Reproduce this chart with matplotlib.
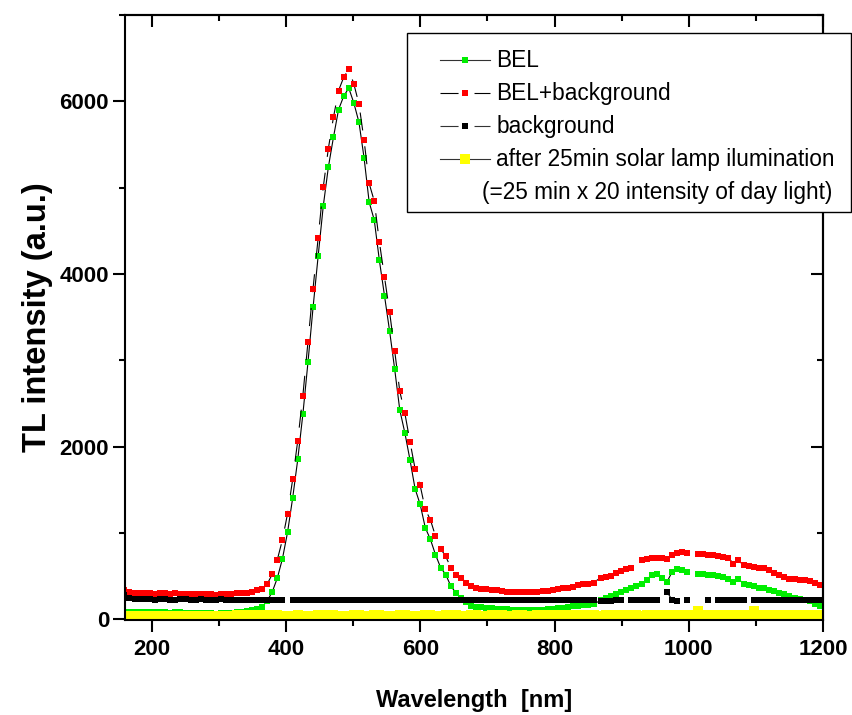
import numpy as np
import matplotlib
matplotlib.use('Agg')
import matplotlib.pyplot as plt
from matplotlib.lines import Line2D
from matplotlib.legend_handler import HandlerLine2D
from matplotlib.ticker import MultipleLocator
import matplotlib.transforms as mtransforms

plt.rcParams['font.family'] = ['Liberation Sans', 'DejaVu Sans']
plt.rcParams['lines.scale_dashes'] = False

nan = np.nan

# wavelength grid (nm)
wavelength = [159.0, 166.6, 174.2, 181.8, 189.4, 197.0, 204.6, 212.2, 219.8, 227.4,
              235.0, 242.6, 250.2, 257.8, 265.4, 273.0, 280.6, 288.2, 295.8, 303.4,
              311.0, 318.6, 326.2, 333.8, 341.4, 349.0, 356.6, 364.2, 371.8, 379.4,
              387.0, 394.6, 402.2, 409.8, 417.4, 425.0, 432.6, 440.2, 447.8, 455.4,
              463.0, 470.6, 478.2, 485.8, 493.4, 501.0, 508.6, 516.2, 523.8, 531.4,
              539.0, 546.6, 554.2, 561.8, 569.4, 577.0, 584.6, 592.2, 599.8, 607.4,
              615.0, 622.6, 630.2, 637.8, 645.4, 653.0, 660.6, 668.2, 675.8, 683.4,
              691.0, 698.6, 706.2, 713.8, 721.4, 729.0, 736.6, 744.2, 751.8, 759.4,
              767.0, 774.6, 782.2, 789.8, 797.4, 805.0, 812.6, 820.2, 827.8, 835.4,
              843.0, 850.6, 858.2, 868.8, 876.4, 884.0, 891.6, 899.2, 906.8, 914.4,
              922.0, 929.6, 937.2, 944.8, 952.4, 960.0, 967.6, 975.2, 982.8, 990.4,
              998.0, 1005.6, 1013.2, 1020.8, 1028.4, 1036.0, 1043.6, 1051.2, 1058.8, 1066.4,
              1074.0, 1081.6, 1089.2, 1096.8, 1104.4, 1112.0, 1119.6, 1127.2, 1134.8, 1142.4,
              1150.0, 1157.6, 1165.2, 1172.8, 1180.4, 1188.0, 1195.6, 1203.2]

bel = [85, 80, 78, 80, 82, 80, 78, 80, 78, 76,
       78, 77, 75, 76, 74, 72, 70, 68, 65, 68,
       72, 76, 80, 85, 92, 105, 122, 142, 210, 316,
       477, 701, 1006, 1403, 1850, 2373, 2975, 3611, 4208, 4786,
       5237, 5584, 5904, 6058, 6154, 5980, 5757, 5345, 4832, 4624,
       4158, 3746, 3341, 2898, 2424, 2158, 1846, 1511, 1329, 1060,
       925, 748, 598, 517, 385, 304, 250, 195, 155, 140,
       135, 132, 128, 122, 116, 112, 108, 106, 104, 104,
       105, 106, 110, 115, 120, 126, 132, 140, 148, 155,
       162, 168, 172, 220, 249, 270, 297, 316, 343, 362,
       389, 412, 459, 509, 520, 482, 432, 547, 586, 566,
       547, nan, 528, 520, 516, 509, 497, 489, 470, 432,
       470, 405, 393, 382, 366, 355, 335, 324, 304, 289,
       266, 250, 239, 227, 212, 181, 158, 150]

bel_bg = [335, 312, 302, 298, 302, 300, 297, 300, 298, 296,
          298, 297, 295, 296, 294, 292, 290, 286, 282, 286,
          292, 296, 300, 303, 308, 320, 335, 352, 405, 520,
          690, 921, 1222, 1618, 2069, 2590, 3210, 3830, 4420, 5006,
          5453, 5815, 6124, 6277, 6373, 6200, 5969, 5549, 5048, 4844,
          4370, 3965, 3561, 3110, 2640, 2385, 2058, 1742, 1549, 1272,
          1152, 963, 817, 728, 598, 517, 482, 424, 382, 360,
          350, 345, 340, 333, 326, 320, 317, 316, 315, 316,
          318, 320, 324, 328, 335, 345, 356, 366, 378, 390,
          402, 412, 422, 482, 489, 505, 540, 559, 586, 597,
          nan, 690, 700, 708, 712, 705, 700, 748, 770, 778,
          765, nan, 758, 752, 745, 738, 730, 722, 713, 644,
          682, 624, 610, 600, 597, 590, 565, 540, 515, 490,
          470, 460, 455, 448, 440, 415, 400, 390]

background = [275, 250, 238, 232, 228, 230, 226, 229, 231, 227,
              225, 229, 230, 226, 224, 228, 226, 222, 225, 228,
              224, 222, 226, 224, 221, 223, 225, 222, 220, 224,
              226, 223, nan, 220, 222, 225, 221, 219, 222, 224,
              220, 218, 221, 223, 219, 220, 224, 222, 218, 220,
              223, 221, 219, 222, 225, 221, 218, 220, 223, 226,
              222, 219, 221, 224, 227, 223, 220, 222, 225, 221,
              218, 220, 223, 221, 218, 220, 222, 219, 221, 224,
              220, 218, 221, 223, 220, 217, 219, 222, 220, 218,
              221, 224, 222, 214, 212, 215, 218, 216, nan, 220,
              218, 221, 219, 222, 220, nan, 316, 222, 215, nan,
              220, nan, nan, nan, 218, nan, 221, 219, 222, 220,
              218, 221, nan, 219, 222, 220, 218, 221, 223, 220,
              218, 221, 224, 220, 218, 222, 220, 219]

after_lamp = [40, 38, 36, 38, 40, 37, 36, 38, 39, 37,
              36, 38, 40, 38, 36, 37, 39, 38, 36, 38,
              40, 42, 44, 46, 48, 47, 45, 44, 42, 43,
              44, 42, 40, 41, 43, 42, 40, 41, 43, 42,
              44, 43, 41, 40, 42, 44, 43, 41, 42, 44,
              43, 41, 40, 42, 44, 43, 42, 40, 41, 43,
              44, 42, 41, 43, 45, 44, 42, 41, 43, 44,
              42, 41, 43, 45, 44, 42, 41, 43, 44, 42,
              41, 43, 45, 44, 42, 43, 45, 46, 44, 43,
              45, 46, 44, 42, 43, 45, 44, 42, 43, 45,
              44, 42, 43, 45, 46, 44, 43, 45, 46, 44,
              43, 45, 100, 46, 44, 43, 45, 44, 42, 43,
              45, 44, 46, 100, 45, 43, 44, 45, 43, 42,
              44, 45, 43, 42, 44, 45, 43, 44]

labels = ['BEL', 'BEL+background', 'background',
          'after 25min solar lamp ilumination']
note = '(=25 min x 20 intensity of day light)'

green = '#00ee00'
red = '#ff0000'
yellow = '#ffff00'
dash = (0, (13, 11.5))
ms = 4.9

fig = plt.figure(figsize=(8.52, 7.15), dpi=100)
ax = fig.add_axes([125/852, 1-620/715, 698/852, 605/715])

ax.plot(wavelength, bel, color='k', lw=0.8, ls='-', marker='s', ms=ms,
        mfc=green, mec=green, mew=0)
ax.plot(wavelength, bel_bg, color='k', lw=0.8, ls=dash, marker='s', ms=ms,
        mfc=red, mec=red, mew=0)
ax.plot(wavelength, background, color='k', lw=0.8, ls=dash, marker='s', ms=ms,
        mfc='k', mec='k', mew=0)
ax.plot(wavelength, after_lamp, color='k', lw=0.8, ls='-', marker='s', ms=6.8,
        mfc=yellow, mec=yellow, mew=0)

ax.set_xlim(160, 1200)
ax.set_ylim(-10, 7000)
ax.set_xticks([200, 400, 600, 800, 1000, 1200])
ax.set_yticks([0, 2000, 4000, 6000])
ax.xaxis.set_minor_locator(MultipleLocator(100))
ax.yaxis.set_minor_locator(MultipleLocator(1000))
ax.tick_params(which='both', direction='out', width=1.5, labelsize=16)
ax.tick_params(which='major', length=8.5)
ax.tick_params(which='minor', length=4.3)
ax.tick_params(axis='x', pad=5)
ax.tick_params(axis='y', pad=3)
for lab in ax.get_xticklabels() + ax.get_yticklabels():
    lab.set_fontweight('bold')
for sp in ax.spines.values():
    sp.set_linewidth(1.5)

# inward ticks on the top and right sides
top = ax.secondary_xaxis('top')
top.set_xticks([200, 400, 600, 800, 1000, 1200])
top.xaxis.set_minor_locator(MultipleLocator(100))
top.tick_params(which='both', direction='in', width=1.5, labeltop=False)
top.tick_params(which='major', length=8.5)
top.tick_params(which='minor', length=4.3)
top.spines['top'].set_linewidth(1.5)
right = ax.secondary_yaxis('right')
right.set_yticks([0, 2000, 4000, 6000])
right.yaxis.set_minor_locator(MultipleLocator(1000))
right.tick_params(which='both', direction='in', width=1.5, labelright=False)
right.tick_params(which='major', length=8.5)
right.tick_params(which='minor', length=4.3)
right.spines['right'].set_linewidth(1.5)

ax.set_xlabel('Wavelength  [nm]', fontsize=17, fontweight='bold', labelpad=21)
ax.set_ylabel('TL intensity (a.u.)', fontsize=23.5, fontweight='bold', labelpad=5)

handles = [
    Line2D([], [], color='#333333', lw=0.8, ls='-', marker='s', ms=ms, mfc=green, mec=green, mew=0),
    Line2D([], [], color='k', lw=0.8, ls=dash, marker='s', ms=ms, mfc=red, mec=red, mew=0),
    Line2D([], [], color='#333333', lw=0.8, ls=dash, marker='s', ms=ms, mfc='k', mec='k', mew=0),
    Line2D([], [], color='#333333', lw=0.8, ls='-', marker='s', ms=6.8, mfc=yellow, mec=yellow, mew=0),
    Line2D([], [], ls='none'),
]
leg = ax.legend(handles, labels + [''], loc='upper left', bbox_to_anchor=(0.404, 0.970),
                fontsize=16.3, frameon=True, fancybox=False, edgecolor='k',
                framealpha=1, handlelength=2.95, handleheight=0.4, handletextpad=0.3,
                labelspacing=0.44, borderpad=0.7, borderaxespad=0,
                handler_map={Line2D: HandlerLine2D(xpad=0.75)})
leg.get_frame().set_linewidth(1.0)
leg.get_texts()[4].set_fontsize(8)

fig.canvas.draw()
b3 = leg.get_texts()[2].get_window_extent()
b4 = leg.get_texts()[3].get_window_extent()
dy = b3.y0 - b4.y0
fig.text(b4.x0 - 14, b4.y0 - dy, note, fontsize=16.3, ha='left', va='bottom',
         transform=mtransforms.IdentityTransform())

fig.savefig('out.png', dpi=100)
